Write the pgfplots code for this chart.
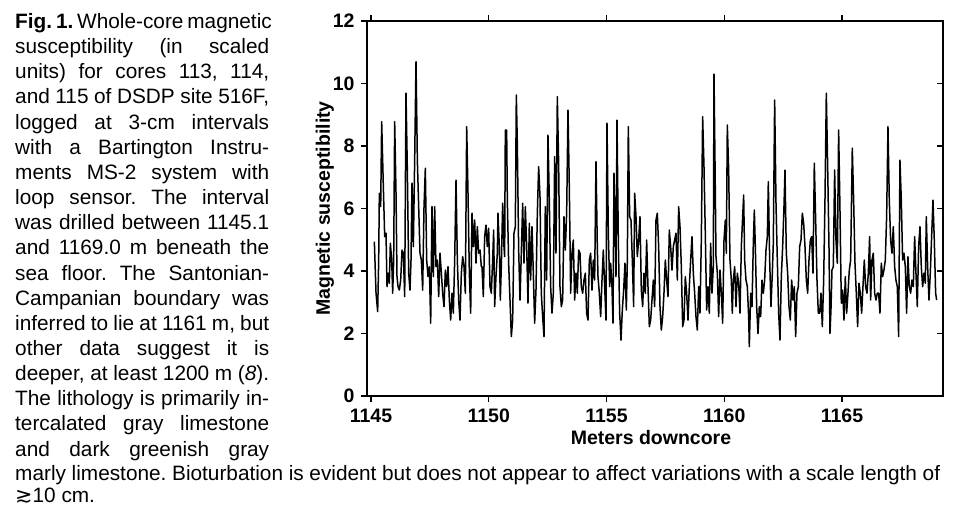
\documentclass[border=0pt]{standalone}
\usepackage{fontspec}
\setmainfont{Liberation Sans}
\newfontfamily\dejavu{DejaVu Sans}
\usepackage{pgfplots}
\pgfplotsset{compat=1.18}
\newcommand{\capfont}{\fontsize{20.8}{25}\selectfont\frenchspacing}
\newcommand{\cl}[2]{\node[anchor=base west, inner sep=0pt, font=\capfont] at (15pt,-#1pt) {\makebox[254pt][s]{#2}};}
\pgfplotstableread{
x y
1145.142 4.94
1145.213 3.29
1145.283 2.70
1145.326 4.35
1145.354 6.49
1145.411 6.06
1145.453 8.78
1145.524 6.70
1145.581 5.10
1145.637 5.21
1145.680 3.50
1145.736 3.93
1145.779 3.61
1145.821 4.89
1145.878 4.35
1145.920 3.29
1145.963 4.35
1146.005 8.78
1146.062 6.49
1146.104 3.82
1146.147 3.50
1146.203 3.39
1146.260 3.71
1146.317 4.67
1146.373 4.57
1146.430 3.18
1146.486 9.69
1146.543 7.23
1146.600 3.93
1146.656 3.39
1146.699 4.35
1146.741 6.81
1146.798 4.78
1146.854 7.55
1146.911 10.70
1146.968 7.55
1147.024 6.06
1147.081 4.57
1147.138 4.35
1147.194 3.39
1147.251 6.06
1147.307 7.29
1147.364 4.35
1147.421 3.82
1147.477 4.14
1147.534 2.33
1147.590 6.06
1147.647 3.82
1147.704 6.06
1147.760 4.14
1147.817 4.35
1147.874 3.18
1147.930 4.57
1147.987 3.93
1148.043 3.29
1148.100 2.86
1148.157 4.03
1148.213 3.50
1148.270 4.14
1148.327 3.07
1148.383 2.43
1148.440 3.29
1148.496 2.65
1148.553 4.35
1148.610 6.91
1148.666 4.35
1148.723 3.07
1148.779 2.43
1148.836 3.93
1148.893 4.46
1148.949 4.14
1149.006 3.29
1149.063 8.62
1149.119 6.49
1149.176 3.93
1149.232 2.65
1149.289 5.85
1149.346 4.78
1149.402 5.63
1149.459 4.25
1149.515 5.42
1149.572 4.57
1149.629 4.67
1149.685 4.14
1149.713 4.14
1149.770 3.18
1149.826 5.10
1149.883 5.47
1149.939 4.78
1149.996 5.37
1150.053 3.50
1150.109 3.29
1150.166 4.35
1150.208 5.31
1150.251 2.86
1150.307 3.82
1150.364 4.57
1150.392 5.85
1150.449 4.78
1150.491 3.07
1150.534 4.14
1150.591 6.17
1150.647 4.78
1150.675 4.46
1150.704 8.51
1150.760 8.51
1150.789 6.27
1150.845 4.25
1150.902 3.07
1150.959 1.90
1151.015 2.43
1151.072 5.21
1151.128 5.42
1151.171 9.63
1151.213 8.09
1151.270 4.67
1151.327 3.07
1151.383 4.57
1151.440 6.17
1151.496 4.25
1151.553 6.06
1151.610 4.78
1151.666 2.97
1151.723 5.53
1151.779 3.71
1151.836 5.42
1151.893 3.93
1151.949 2.33
1152.006 3.39
1152.063 5.85
1152.119 7.34
1152.176 6.38
1152.232 3.29
1152.289 2.54
1152.346 1.90
1152.402 6.06
1152.459 3.71
1152.515 8.35
1152.572 6.27
1152.629 3.50
1152.685 2.65
1152.742 3.29
1152.799 7.66
1152.855 4.57
1152.912 9.58
1152.968 7.45
1153.025 3.50
1153.082 2.86
1153.138 3.07
1153.195 5.74
1153.252 4.67
1153.308 5.85
1153.365 9.15
1153.421 6.70
1153.478 3.29
1153.535 4.57
1153.591 4.99
1153.648 3.07
1153.704 3.93
1153.761 3.29
1153.818 4.67
1153.874 4.57
1153.931 3.50
1153.988 3.29
1154.044 3.71
1154.101 3.93
1154.157 2.65
1154.214 2.43
1154.271 4.35
1154.327 4.57
1154.384 3.39
1154.440 4.35
1154.497 3.71
1154.554 7.50
1154.610 4.78
1154.639 3.82
1154.696 3.29
1154.752 2.54
1154.809 3.71
1154.865 4.67
1154.922 3.50
1154.979 2.43
1155.021 8.73
1155.078 5.21
1155.134 3.50
1155.177 4.25
1155.233 3.50
1155.276 2.33
1155.318 7.13
1155.361 5.74
1155.403 3.82
1155.446 8.83
1155.502 4.99
1155.559 2.65
1155.616 1.79
1155.672 2.75
1155.729 3.39
1155.785 4.25
1155.842 2.75
1155.885 4.35
1155.927 8.62
1155.984 5.74
1156.040 5.63
1156.097 4.35
1156.153 2.86
1156.196 6.49
1156.253 5.74
1156.309 4.46
1156.366 4.99
1156.422 5.74
1156.479 3.39
1156.536 2.86
1156.592 3.93
1156.649 3.29
1156.705 4.99
1156.762 3.50
1156.819 2.22
1156.875 2.43
1156.932 3.07
1156.989 3.71
1157.045 2.86
1157.102 5.63
1157.158 5.85
1157.215 4.78
1157.272 2.86
1157.328 2.11
1157.385 2.54
1157.441 3.29
1157.498 4.35
1157.555 3.71
1157.611 3.18
1157.668 5.31
1157.725 4.78
1157.781 4.03
1157.838 4.78
1157.894 4.99
1157.951 5.21
1158.008 3.71
1158.064 6.06
1158.121 5.42
1158.178 4.14
1158.234 2.22
1158.291 2.43
1158.347 3.82
1158.404 3.29
1158.461 2.43
1158.517 3.50
1158.574 4.35
1158.630 5.10
1158.687 3.93
1158.744 3.29
1158.800 2.54
1158.857 2.11
1158.914 3.50
1158.970 2.65
1159.027 4.99
1159.083 8.94
1159.140 7.34
1159.196 5.21
1159.253 2.75
1159.310 3.50
1159.366 2.65
1159.423 4.89
1159.479 3.29
1159.536 4.14
1159.565 10.30
1159.607 7.55
1159.650 4.46
1159.707 3.93
1159.763 2.54
1159.820 4.03
1159.876 3.29
1159.933 2.33
1159.990 4.99
1160.046 5.63
1160.089 4.57
1160.131 8.67
1160.188 7.23
1160.244 4.35
1160.301 3.71
1160.343 2.65
1160.386 3.71
1160.443 4.14
1160.499 2.86
1160.556 3.93
1160.612 3.61
1160.669 2.65
1160.726 4.78
1160.782 5.74
1160.825 6.43
1160.867 4.35
1160.924 3.71
1160.980 3.50
1161.037 2.54
1161.065 1.58
1161.122 3.29
1161.179 2.86
1161.235 4.89
1161.278 5.95
1161.320 4.78
1161.377 2.86
1161.433 2.00
1161.490 2.86
1161.547 2.54
1161.603 3.71
1161.660 3.29
1161.716 3.71
1161.773 4.67
1161.830 5.10
1161.872 6.86
1161.929 4.35
1161.985 2.86
1162.042 3.93
1162.084 4.89
1162.141 9.47
1162.198 6.17
1162.254 4.35
1162.311 2.65
1162.367 1.79
1162.424 3.82
1162.481 4.78
1162.537 6.06
1162.580 7.23
1162.636 4.57
1162.693 3.93
1162.750 2.86
1162.806 2.43
1162.863 3.71
1162.919 3.07
1162.976 3.50
1163.033 1.90
1163.089 3.29
1163.146 3.50
1163.203 4.78
1163.259 4.99
1163.316 5.85
1163.372 5.53
1163.429 4.78
1163.486 3.71
1163.542 3.29
1163.599 4.35
1163.656 4.99
1163.712 5.10
1163.769 3.93
1163.825 7.45
1163.882 5.63
1163.939 3.71
1163.995 2.65
1164.052 2.65
1164.108 3.29
1164.165 2.22
1164.222 3.71
1164.278 6.27
1164.335 9.69
1164.392 7.34
1164.448 4.78
1164.490 2.00
1164.532 2.75
1164.575 4.03
1164.632 4.14
1164.688 7.23
1164.745 4.99
1164.801 4.25
1164.858 8.51
1164.915 5.95
1164.971 2.97
1165.028 3.39
1165.084 2.43
1165.141 3.82
1165.198 2.65
1165.254 3.29
1165.311 4.03
1165.368 4.35
1165.438 7.93
1165.495 6.27
1165.552 4.25
1165.608 3.29
1165.665 2.22
1165.721 3.61
1165.778 3.29
1165.835 2.65
1165.891 3.50
1165.948 4.35
1166.004 3.50
1166.061 3.29
1166.118 3.93
1166.174 5.10
1166.217 3.07
1166.273 4.35
1166.330 4.57
1166.387 3.29
1166.443 3.07
1166.500 3.29
1166.556 3.29
1166.613 2.65
1166.670 4.25
1166.726 3.82
1166.783 4.03
1166.840 4.35
1166.896 5.74
1166.953 8.62
1167.009 6.27
1167.066 4.99
1167.123 4.57
1167.179 5.42
1167.236 4.14
1167.292 3.71
1167.349 3.50
1167.406 1.90
1167.462 7.55
1167.519 6.27
1167.575 4.35
1167.632 4.57
1167.689 4.14
1167.745 2.65
1167.802 4.46
1167.859 3.50
1167.915 3.29
1167.972 3.71
1168.029 3.50
1168.085 5.10
1168.142 3.93
1168.198 2.86
1168.255 4.78
1168.312 5.42
1168.368 4.14
1168.425 3.50
1168.481 3.93
1168.538 3.61
1168.581 5.74
1168.637 4.14
1168.694 3.07
1168.750 3.93
1168.807 5.10
1168.864 6.27
1168.920 4.99
1168.977 3.29
1169.019 3.07
}\susdata
\begin{document}
\begin{tikzpicture}[x=1pt,y=1pt]
\useasboundingbox (0,0) rectangle (955,-508);
\cl{28.5}{\textbf{Fig. 1.} Whole-core magnetic}
\cl{53.65}{susceptibility (in scaled}
\cl{78.8}{units) for cores 113, 114,}
\cl{103.95}{and 115 of DSDP site 516F,}
\cl{129.1}{logged at 3-cm intervals}
\cl{154.25}{with a Bartington Instru-}
\cl{179.4}{ments MS-2 system with}
\cl{204.55}{loop sensor. The interval}
\cl{229.7}{was drilled between 1145.1}
\cl{254.85}{and 1169.0 m beneath the}
\cl{280.0}{sea floor. The Santonian-}
\cl{305.15}{Campanian boundary was}
\cl{330.3}{inferred to lie at 1161 m, but}
\cl{355.45}{other data suggest it is}
\cl{380.6}{deeper, at least 1200 m (\textit{8}).}
\cl{405.75}{The lithology is primarily in-}
\cl{430.9}{tercalated gray limestone}
\cl{456.05}{and dark greenish gray}
\node[anchor=base west, inner sep=0pt, font=\capfont] at (15pt,-480.5pt) {\makebox[925pt][s]{marly limestone. Bioturbation is evident but does not appear to affect variations with a scale length of}};
\node[anchor=base west, inner sep=0pt, font=\capfont] at (15pt,-502pt) {{\dejavu ≳}10 cm.};
\begin{axis}[
  at={(367pt,-396pt)}, anchor=south west,
  width=576pt, height=375pt, scale only axis,
  xmin=1144.83, xmax=1169.29, ymin=0, ymax=12,
  xtick={1145,1150,1155,1160,1165}, ytick={0,2,4,6,8,10,12},
  xtick pos=both, ytick pos=left,
  tick align=outside, major tick length=6pt,
  tick style={black, line width=1.3pt},
  axis line style={black, line width=1.8pt},
  /pgf/number format/assume math mode=true,
  /pgf/number format/set thousands separator={},
  ticklabel style={font=\fontsize{19.5}{20}\selectfont\bfseries},
  yticklabel style={xshift=-3pt},
  xticklabel style={anchor=north, text height=14pt, text depth=0pt, inner sep=0pt, yshift=-6pt},
  xlabel={Meters downcore}, ylabel={Magnetic susceptibility},
  label style={font=\fontsize{19.5}{20}\selectfont\bfseries},
  xlabel style={at={(axis description cs:0.493,-0.112)}, anchor=center},
  ylabel style={at={(axis description cs:-0.0730,0.5)}, anchor=center},
]
\addplot[black, line width=1.5pt, line join=round, mark=none] table[x=x,y=y] {\susdata};
\end{axis}
\begin{axis}[
  at={(367pt,-396pt)}, anchor=south west,
  width=576pt, height=375pt, scale only axis,
  xmin=1144.83, xmax=1169.29, ymin=0, ymax=12,
  hide x axis, axis y line*=right,
  ytick={0,2,4,6,8,10,12}, yticklabels={},
  tick align=inside, major tick length=6pt,
  tick style={black, line width=1.3pt},
  axis line style={black, line width=1.8pt},
]
\addplot[draw=none] coordinates {(1150,1)};
\end{axis}
\end{tikzpicture}
\end{document}
